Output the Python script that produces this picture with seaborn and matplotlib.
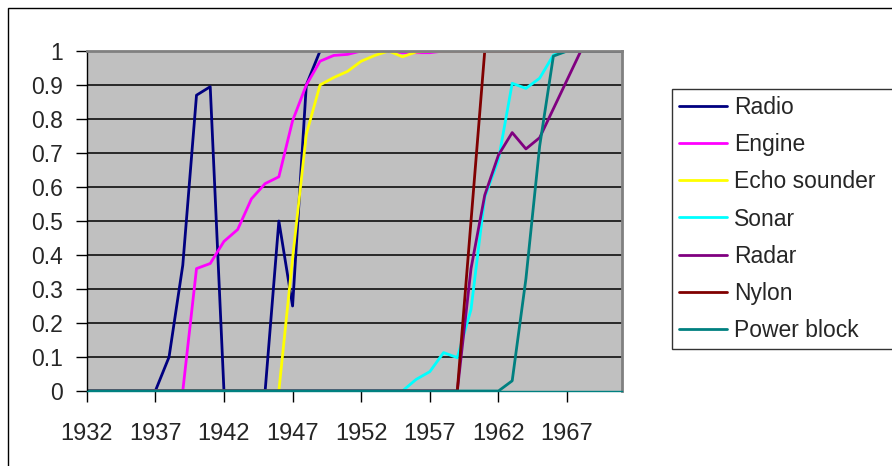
import numpy as np
import pandas as pd
import seaborn as sns
from matplotlib import pyplot as plt
from matplotlib.patches import Rectangle

years = list(range(1932, 1972))
series_names = ['Radio', 'Engine', 'Echo sounder', 'Sonar', 'Radar', 'Nylon', 'Power block']
colors = ['#000080', '#FF00FF', '#FFFF00', '#00FFFF', '#800080', '#800000', '#008080']

radio = [0] * 6 + [0.1, 0.37, 0.87, 0.895, 0, 0, 0, 0, 0.5, 0.25, 0.9] + [1] * 23
engine = [0] * 8 + [0.36, 0.375, 0.44, 0.475, 0.565, 0.61, 0.63, 0.795, 0.9, 0.97,
                    0.987, 0.99, 1.0, 1.0, 1.0, 0.995, 0.995, 0.995, 1.0] + [1] * 13
echo = [0] * 15 + [0.39, 0.755, 0.9, 0.922, 0.94, 0.97, 0.987, 1.0, 0.983, 0.997, 1.0] + [1] * 14
sonar = [0] * 24 + [0.034, 0.057, 0.113, 0.098, 0.24, 0.57, 0.68, 0.905, 0.89, 0.92, 0.988] + [1] * 5
radar = [0] * 28 + [0.36, 0.576, 0.694, 0.76, 0.712, 0.745, 0.83, 0.915] + [1] * 4
nylon = [0] * 28 + [0.5] + [1] * 11
power_block = [0] * 31 + [0.03, 0.33, 0.72, 0.985] + [1] * 5

values = [radio, engine, echo, sonar, radar, nylon, power_block]
df = pd.concat([pd.DataFrame({'Year': years, 'Value': v, 'Series': n})
                for n, v in zip(series_names, values)], ignore_index=True)

sns.set_style('white')
plt.rcParams['font.family'] = ['Liberation Sans', 'DejaVu Sans']

fig = plt.figure(figsize=(8.92, 4.66), dpi=100)
ax = fig.add_axes([86.7 / 892, 1 - 391 / 466, (622 - 86.7) / 892, 340 / 466])
ax.set_facecolor('#C0C0C0')

sns.lineplot(data=df, x='Year', y='Value', hue='Series', hue_order=series_names,
             palette=dict(zip(series_names, colors)), linewidth=2, ax=ax,
             estimator=None, sort=False, legend=True)

ax.set_xlim(1932, 1971)
ax.set_ylim(0, 1)
ax.set_xticks(range(1932, 1971, 5))
ax.set_yticks(np.round(np.arange(0, 1.01, 0.1), 1))
ax.set_yticklabels(['0'] + [f'{v:.1f}' for v in np.arange(0.1, 0.95, 0.1)] + ['1'])
for y in np.arange(0.1, 0.95, 0.1):
    ax.axhline(y, color='#282828', lw=1.4, zorder=0.5)
ax.set_xlabel('')
ax.set_ylabel('')
ax.tick_params(axis='both', direction='out', length=8, width=1, color='black',
               bottom=True, left=True)
ax.tick_params(axis='x', pad=15, labelsize=17)
ax.tick_params(axis='y', pad=9, labelsize=16.5)
for s in ax.spines.values():
    s.set_color('#808080')
    s.set_linewidth(2)
ax.spines['left'].set_color('black')
ax.spines['left'].set_linewidth(1)
ax.spines['bottom'].set_linewidth(1)
ax.spines['bottom'].set_color('#008080')

handles, labels = ax.get_legend_handles_labels()
ax.get_legend().remove()
leg = fig.legend(handles, labels, loc='upper left',
                 bbox_to_anchor=(672 / 892, 1 - 89 / 466, 0.35, 0.0), mode='expand',
                 fontsize=16.5, frameon=True, fancybox=False, edgecolor='black',
                 handlelength=2.1, handletextpad=0.3, labelspacing=0.62,
                 borderaxespad=0, borderpad=0.3)
leg.get_frame().set_linewidth(1)
for h in leg.get_lines():
    h.set_linewidth(2)

fig.patches.append(Rectangle((8 / 892, -0.2), 1.2, 1.2 - 8 / 466, transform=fig.transFigure,
                             fill=False, edgecolor='black', lw=1, clip_on=False))

fig.savefig('out.png', dpi=100)
